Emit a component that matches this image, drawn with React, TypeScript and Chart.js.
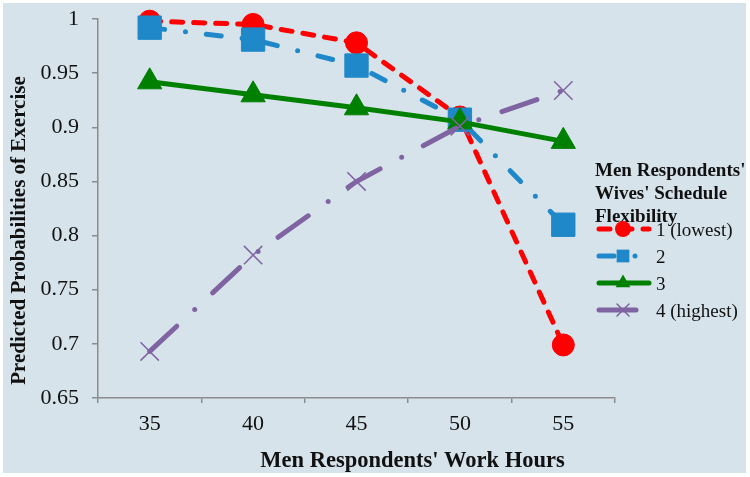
import React, { useEffect, useRef } from "react";
import { Chart, registerables } from "chart.js";

Chart.register(...registerables);

const categories = ["35", "40", "45", "50", "55"];
const seriesNames = ["1 (lowest)", "2", "3", "4 (highest)"];
const flex1Lowest = [0.998, 0.995, 0.978, 0.9095, 0.699];
const flex2 = [0.992, 0.981, 0.957, 0.907, 0.81];
const flex3 = [0.942, 0.93, 0.918, 0.905, 0.887];
const flex4Highest = [0.693, 0.782, 0.85, 0.901, 0.934];
const yMin = 0.65;
const yMax = 1;
const yStep = 0.05;
const xTitle = "Men Respondents' Work Hours";
const yTitle = "Predicted Probabilities of Exercise";
const legendTitle = ["Men Respondents'", "Wives' Schedule", "Flexibility"];

const RED = "#FF0000";
const BLUE = "#1F88C8";
const GREEN = "#008000";
const PURPLE = "#8064A2";
const AXIS = "#8C8C8C";
const SERIF = '"Liberation Serif", "Times New Roman", serif';

const styles = [
  { color: RED, dash: [11, 11], point: "circle", r: 11, lr: 8 },
  { color: BLUE, dash: [15, 21, 0, 21], point: "rect", r: 16.5, lr: 9 },
  { color: GREEN, dash: [], point: "triangle", r: 14, lr: 8.5 },
  { color: PURPLE, dash: [37, 24.5, 0, 24.5], point: "crossRot", r: 13, lr: 8.5 },
];

function drawMarker(ctx: CanvasRenderingContext2D, kind: string, r: number, x: number, y: number, color: string) {
  ctx.save();
  ctx.fillStyle = color;
  ctx.strokeStyle = color;
  ctx.beginPath();
  if (kind === "circle") {
    ctx.arc(x, y, r, 0, Math.PI * 2);
    ctx.fill();
  } else if (kind === "rect") {
    const h = r * Math.SQRT1_2;
    ctx.rect(x - h, y - h, 2 * h, 2 * h);
    ctx.fill();
  } else if (kind === "triangle") {
    ctx.moveTo(x, y - r);
    ctx.lineTo(x + r * 0.866, y + r / 2);
    ctx.lineTo(x - r * 0.866, y + r / 2);
    ctx.closePath();
    ctx.fill();
  } else {
    const o = r * Math.SQRT1_2;
    ctx.lineWidth = 1.5;
    ctx.moveTo(x - o, y - o);
    ctx.lineTo(x + o, y + o);
    ctx.moveTo(x + o, y - o);
    ctx.lineTo(x - o, y + o);
    ctx.stroke();
  }
  ctx.restore();
}

const decorPlugin = {
  id: "decor",
  afterDraw(chart: any) {
    const ctx = chart.ctx as CanvasRenderingContext2D;
    ctx.save();
    ctx.fillStyle = "#111";
    ctx.font = `bold 22.5px ${SERIF}`;
    ctx.textAlign = "center";
    ctx.textBaseline = "alphabetic";
    ctx.fillText(xTitle, 412.5, 466.5);
    ctx.save();
    ctx.translate(25, 230.5);
    ctx.rotate(-Math.PI / 2);
    ctx.font = `bold 21px ${SERIF}`;
    ctx.fillText(yTitle, 0, 0);
    ctx.restore();
    ctx.textAlign = "left";
    ctx.font = `bold 19px ${SERIF}`;
    legendTitle.forEach((t, i) => ctx.fillText(t, 595, 176 + i * 23));
    const rowY = [229, 256, 283, 310];
    styles.forEach((s, i) => {
      const y = rowY[i];
      ctx.save();
      ctx.strokeStyle = s.color;
      ctx.lineWidth = 5;
      ctx.lineCap = "round";
      ctx.setLineDash(s.dash);
      ctx.beginPath();
      ctx.moveTo(599, y);
      ctx.lineTo(649, y);
      ctx.stroke();
      ctx.setLineDash([]);
      drawMarker(ctx, s.point, s.lr, 623, y, s.color);
      ctx.restore();
      ctx.fillStyle = "#111";
      ctx.font = `19px ${SERIF}`;
      ctx.textBaseline = "alphabetic";
      ctx.fillText(seriesNames[i], 656, y + 6.5);
    });
    ctx.restore();
  },
};

export default function App() {
  const ref = useRef<HTMLCanvasElement | null>(null);
  useEffect(() => {
    if (!ref.current) return;
    const series = [flex1Lowest, flex2, flex3, flex4Highest];
    const chart = new Chart(ref.current, {
      type: "line",
      data: {
        labels: categories,
        datasets: series.map((d, i) => ({
          label: seriesNames[i],
          data: d,
          borderColor: styles[i].color,
          backgroundColor: styles[i].color,
          borderWidth: 5,
          borderDash: styles[i].dash,
          borderCapStyle: "round" as const,
          borderJoinStyle: "round" as const,
          pointStyle: styles[i].point as any,
          pointRadius: styles[i].r,
          pointHoverRadius: styles[i].r,
          pointBorderWidth: i === 3 ? 1.5 : 1,
          pointBorderColor: styles[i].color,
          pointBackgroundColor: styles[i].color,
          tension: 0,
          order: 4 - i,
          clip: false as any,
        })),
      },
      options: {
        responsive: false,
        animation: false,
        events: [],
        layout: { padding: { left: 0, top: 19, right: 135, bottom: 0 } },
        plugins: { legend: { display: false }, tooltip: { enabled: false }, title: { display: false } },
        scales: {
          x: {
            type: "category",
            offset: true,
            grid: { display: true, offset: true, drawOnChartArea: false, drawTicks: true, tickLength: 5, color: AXIS, lineWidth: 1.5 },
            border: { display: true, color: AXIS, width: 1.5 },
            ticks: { color: "#111", font: { family: SERIF, size: 22 }, padding: 8, maxRotation: 0 },
            afterFit: (s: any) => {
              s.height = 79;
              s.paddingLeft = 0;
              s.paddingRight = 0;
            },
          },
          y: {
            min: yMin,
            max: yMax,
            grid: { display: true, drawOnChartArea: false, drawTicks: true, tickLength: 6, color: AXIS, lineWidth: 1.5 },
            border: { display: true, color: AXIS, width: 1.5 },
            ticks: {
              stepSize: yStep,
              color: "#111",
              font: { family: SERIF, size: 22 },
              padding: 13,
              callback: (v: any) => String(Number(Number(v).toFixed(2))),
            },
            afterFit: (s: any) => {
              s.width = 98;
              s.paddingTop = 0;
              s.paddingBottom = 0;
            },
          },
        },
      },
      plugins: [decorPlugin],
    });
    return () => chart.destroy();
  }, []);

  return (
    <div style={{ position: "fixed", left: 0, top: 0, width: 750, height: 477, background: "#fff" }}>
      <div style={{ position: "absolute", left: 3, top: 3, width: 743, height: 470, background: "#D6E3EB" }} />
      <canvas ref={ref} width={750} height={477} style={{ position: "absolute", left: 0, top: 0, width: 750, height: 477 }} />
    </div>
  );
}
